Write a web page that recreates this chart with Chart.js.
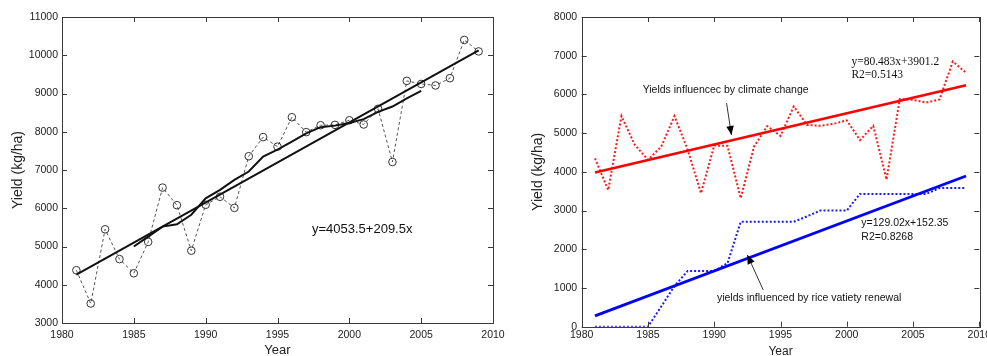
<!DOCTYPE html>
<html><head><meta charset="utf-8">
<script src="https://cdn.jsdelivr.net/npm/chart.js@4.4.0/dist/chart.umd.min.js"></script>
<style>
html,body{margin:0;padding:0;background:#fff;}
#wrap{position:relative;width:987px;height:356px;background:#fff;overflow:hidden;}
#c1{position:absolute;left:0;top:0;}
#c2{position:absolute;left:500px;top:0;}
</style></head><body>
<div id="wrap">
<canvas id="c2" width="487" height="356"></canvas>
<canvas id="c1" width="520" height="356"></canvas>
</div>
<script>
// ---------- data ----------
const years = [1981,1982,1983,1984,1985,1986,1987,1988,1989,1990,1991,1992,1993,1994,1995,1996,1997,1998,1999,2000,2001,2002,2003,2004,2005,2006,2007,2008,2009];
// left panel
const observedYield = [4380,3510,5450,4670,4300,5120,6540,6080,4890,6090,6300,6010,7360,7860,7610,8380,7990,8170,8180,8300,8190,8600,7210,9330,9250,9210,9400,10400,10100];
const fitYears = [1981,2009];
const fittedYield = [4263,10129];
const maYears = [1985,1986,1987,1988,1989,1990,1991,1992,1993,1994,1995,1996,1997,1998,1999,2000,2001,2002,2003,2004,2005];
const movingAvgYield = [5000,5260,5520,5580,5830,6260,6480,6740,6960,7350,7530,7740,7960,8120,8160,8230,8330,8520,8660,8870,9070];
// right panel
const climateYield = [4350,3530,5440,4700,4310,4650,5440,4570,3450,4680,4670,3320,4650,5180,4930,5690,5210,5190,5240,5330,4820,5190,3800,5880,5860,5790,5870,6850,6560];
const climateFit = [3982,6235];
const varietyYield = [0,0,0,0,0,520,1050,1440,1440,1440,1640,2710,2710,2710,2710,2710,2850,3000,3000,3000,3430,3430,3430,3430,3430,3430,3580,3580,3580];
const varietyFit = [281,3894];
// tick labels
const xTicks = [1980,1985,1990,1995,2000,2005,2010];
const leftYTicks = [3000,4000,5000,6000,7000,8000,9000,10000,11000];
const rightYTicks = [0,1000,2000,3000,4000,5000,6000,7000,8000];
// texts
const leftEquation = 'y=4053.5+209.5x';
const climateLabel = 'Yields influencec by climate change';
const climateEq = ['y=80.483x+3901.2','R2=0.5143'];
const varietyLabel = 'yields influenced by rice vatiety renewal';
const varietyEq = ['y=129.02x+152.35','R2=0.8268'];

// ---------- helpers ----------
const pts = (xs, ys) => xs.map((x, i) => ({x, y: ys[i]}));
const SANS = '"Liberation Sans", Arial, sans-serif';
const SERIF = '"Liberation Serif", "Times New Roman", serif';

function arrow(ctx, x1, y1, x2, y2) {
  ctx.save();
  ctx.strokeStyle = '#333'; ctx.lineWidth = 1;
  ctx.beginPath(); ctx.moveTo(x1, y1); ctx.lineTo(x2, y2); ctx.stroke();
  const a = Math.atan2(y2 - y1, x2 - x1), L = 9, W = 3.8;
  ctx.fillStyle = '#000';
  ctx.beginPath();
  ctx.moveTo(x2, y2);
  ctx.lineTo(x2 - L*Math.cos(a) + W*Math.sin(a), y2 - L*Math.sin(a) - W*Math.cos(a));
  ctx.lineTo(x2 - L*Math.cos(a) - W*Math.sin(a), y2 - L*Math.sin(a) + W*Math.cos(a));
  ctx.closePath(); ctx.fill();
  ctx.restore();
}

const framePlugin = {
  id: 'frame',
  afterDatasetsDraw(chart, args, opts) {
    const {ctx, chartArea: a, scales: {x, y}} = chart;
    ctx.save();
    ctx.strokeStyle = '#3a3a3a'; ctx.lineWidth = 1;
    ctx.strokeRect(Math.round(a.left) + 0.5, Math.round(a.top) + 0.5, Math.round(a.right - a.left), Math.round(a.bottom - a.top));
    const T = 5;
    ctx.beginPath();
    x.ticks.forEach(t => {
      const px = Math.round(x.getPixelForValue(t.value)) + 0.5;
      ctx.moveTo(px, a.bottom); ctx.lineTo(px, a.bottom - T);
      ctx.moveTo(px, a.top); ctx.lineTo(px, a.top + T);
    });
    y.ticks.forEach(t => {
      const py = Math.round(y.getPixelForValue(t.value)) + 0.5;
      ctx.moveTo(a.left, py); ctx.lineTo(a.left + T, py);
      ctx.moveTo(a.right, py); ctx.lineTo(a.right - T, py);
    });
    ctx.stroke();
    (opts.notes || []).forEach(n => {
      ctx.font = n.font; ctx.fillStyle = '#111';
      ctx.textAlign = 'left'; ctx.textBaseline = 'middle';
      const px = x.getPixelForValue(n.x);
      n.lines.forEach((ln, i) => ctx.fillText(ln, px, y.getPixelForValue(n.y) + i * n.lh));
    });
    (opts.arrows || []).forEach(r => {
      arrow(ctx, x.getPixelForValue(r.x1), y.getPixelForValue(r.y1), x.getPixelForValue(r.x2), y.getPixelForValue(r.y2));
    });
    ctx.restore();
  }
};

function baseScales(yMin, yMax, yTicks, yW, xH, yTickPad, xTickPad, yTitlePad, xTitleSize, xTitleLH) {
  const tickFont = {family: SANS, size: 10.5};
  return {
    x: {
      type: 'linear', min: 1980, max: 2010,
      grid: {display: false, drawTicks: false}, border: {display: false},
      afterBuildTicks: s => { s.ticks = xTicks.map(v => ({value: v})); },
      ticks: {font: tickFont, color: '#222', padding: xTickPad, maxRotation: 0, autoSkip: false, callback: v => String(v)},
      title: {display: true, text: 'Year', color: '#222', font: {family: SANS, size: xTitleSize, lineHeight: xTitleLH}, padding: {top: 0, bottom: 0}},
      afterFit: s => { s.height = xH; s.paddingLeft = 0; s.paddingRight = 0; }
    },
    y: {
      type: 'linear', min: yMin, max: yMax,
      grid: {display: false, drawTicks: false}, border: {display: false},
      afterBuildTicks: s => { s.ticks = yTicks.map(v => ({value: v})); },
      ticks: {font: tickFont, color: '#222', padding: yTickPad, autoSkip: false, callback: v => String(v)},
      title: {display: true, text: 'Yield (kg/ha)', color: '#222', font: {family: SANS, size: 14, lineHeight: 1.2}, padding: {top: yTitlePad, bottom: 0}},
      afterFit: s => { s.width = yW; s.paddingTop = 0; s.paddingBottom = 0; }
    }
  };
}

// ---------- left chart ----------
new Chart(document.getElementById('c1'), {
  type: 'line',
  data: {
    datasets: [
      {data: pts(fitYears, fittedYield), borderColor: '#111', borderWidth: 2, pointRadius: 0, tension: 0},
      {data: pts(maYears, movingAvgYield), borderColor: '#111', borderWidth: 2, pointRadius: 0, tension: 0},
      {data: pts(years, observedYield), borderColor: '#555', borderWidth: 1, borderDash: [3, 2.5], pointRadius: 3.8, pointBorderWidth: 1, pointBorderColor: '#333', pointBackgroundColor: 'rgba(0,0,0,0)', tension: 0}
    ]
  },
  options: {
    responsive: false, animation: false, devicePixelRatio: 1,
    layout: {padding: {left: 0, top: 17, right: 27, bottom: 0}},
    plugins: {
      legend: {display: false}, tooltip: {enabled: false},
      frame: {notes: [{lines: [leftEquation], x: 1997.4, y: 5450, lh: 0, font: '13px ' + SANS}]}
    },
    scales: baseScales(3000, 11000, leftYTicks, 62, 33, 4, 6, 10.2, 13, 0.8)
  },
  plugins: [framePlugin]
});

// ---------- right chart ----------
new Chart(document.getElementById('c2'), {
  type: 'line',
  data: {
    datasets: [
      {data: pts(fitYears, climateFit), borderColor: '#ff0000', borderWidth: 2.6, pointRadius: 0, tension: 0},
      {data: pts(fitYears, varietyFit), borderColor: '#0000ff', borderWidth: 2.8, pointRadius: 0, tension: 0},
      {data: pts(years, climateYield), borderColor: '#ff1a1a', borderWidth: 2, borderDash: [2, 2], pointRadius: 0, tension: 0},
      {data: pts(years, varietyYield), borderColor: '#1a1aff', borderWidth: 2, borderDash: [2, 2], pointRadius: 0, tension: 0}
    ]
  },
  options: {
    responsive: false, animation: false, devicePixelRatio: 1,
    layout: {padding: {left: 0, top: 17, right: 7.7, bottom: 0}},
    plugins: {
      legend: {display: false}, tooltip: {enabled: false},
      frame: {
        notes: [
          {lines: [climateLabel], x: 1984.6, y: 6116, lh: 0, font: '10.5px ' + SANS},
          {lines: climateEq, x: 2000.35, y: 6848, lh: 13.3, font: '11.5px ' + SERIF},
          {lines: varietyEq, x: 2001.1, y: 2672, lh: 13.4, font: '10.5px ' + SANS},
          {lines: [varietyLabel], x: 1990.2, y: 734, lh: 0, font: '10.5px ' + SANS}
        ],
        arrows: [
          {x1: 1990.93, y1: 5775, x2: 1991.3, y2: 4953},
          {x1: 1993.7, y1: 948, x2: 1992.5, y2: 1853}
        ]
      }
    },
    scales: baseScales(0, 8000, rightYTicks, 81.7, 29.3, 4.5, 2, 30.2, 12, 0.7)
  },
  plugins: [framePlugin]
});
</script>
</body></html>
